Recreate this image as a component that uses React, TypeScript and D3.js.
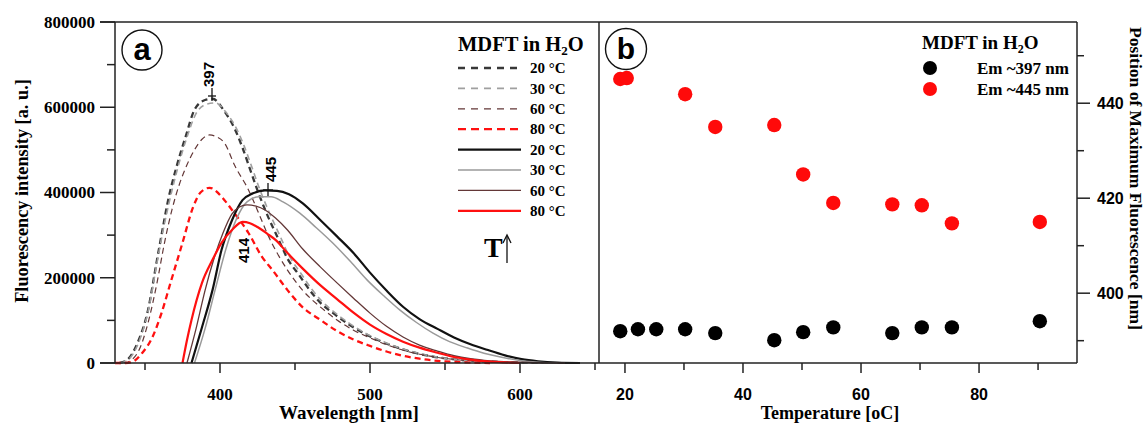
import React from 'react';
import * as d3 from 'd3';

const W = 1146;
const H = 425;

// ---------- Panel a: spectra  [wavelength (nm), intensity (a.u.)] ----------
const dashed20: [number, number][] = [
  [333, 0], [338, 7000], [345, 47000], [352, 124000], [358, 242000], [362, 319000], [365, 375000],
  [371, 460000], [377, 530000], [383, 594000], [390, 617000], [395, 620000], [403, 590000],
  [410, 548000], [415, 505000], [420, 455000], [425, 405000], [430, 360000], [439, 290000],
  [445, 245000], [453, 205000], [460, 170000], [467, 141000], [475, 118000], [487, 88000],
  [498, 66000], [510, 47000], [520, 34000], [531, 23000], [542, 15000], [555, 9000],
  [568, 5000], [590, 2000], [620, 0],
];
const dashed30: [number, number][] = [
  [334, 0], [339, 8000], [346, 50000], [352, 120000], [358, 235000], [362, 310000], [366, 375000],
  [372, 460000], [378, 530000], [384, 585000], [391, 607000], [397, 610000], [404, 588000],
  [411, 550000], [416, 510000], [421, 462000], [426, 412000], [431, 368000], [440, 298000],
  [446, 252000], [454, 210000], [461, 174000], [468, 145000], [476, 120000], [488, 89000],
  [499, 66000], [511, 47000], [521, 34000], [532, 23000], [543, 15000], [556, 9000],
  [569, 5000], [591, 2000], [622, 0],
];
const dashed60: [number, number][] = [
  [336, 0], [341, 7000], [347, 38000], [352, 94000], [358, 188000], [363, 282000], [368, 360000],
  [373, 420000], [378, 465000], [383, 500000], [388, 525000], [393, 535000], [398, 530000],
  [403, 516000], [410, 462000], [419, 406000], [425, 358000], [432, 300000], [445, 218000],
  [455, 171000], [467, 131000], [478, 101000], [489, 77000], [500, 59000], [511, 43000],
  [522, 30000], [540, 16000], [560, 7000], [590, 2000], [620, 0],
];
const dashed80: [number, number][] = [
  [330, 0], [336, 0], [341, 2000], [348, 23000], [355, 61000], [361, 117000], [367, 188000],
  [375, 282000], [382, 365000], [387, 400000], [393, 411000], [403, 382000], [408, 359000],
  [419, 305000], [428, 249000], [435, 218000], [445, 171000], [455, 131000], [467, 101000],
  [478, 75000], [489, 55000], [500, 40000], [511, 27000], [522, 17000], [533, 10000],
  [545, 5000], [560, 2000], [580, 0],
];
const solid20: [number, number][] = [
  [381, 0], [388, 84000], [395, 171000], [401, 265000], [408, 335000], [415, 382000], [422, 398000],
  [430, 405000], [438, 404000], [446, 396000], [455, 375000], [467, 335000], [478, 297000],
  [489, 258000], [500, 212000], [511, 170000], [522, 132000], [533, 103000], [545, 80000],
  [556, 60000], [567, 44000], [578, 31000], [590, 18000], [601, 9000], [612, 4000],
  [625, 1000], [640, 0],
];
const solid30: [number, number][] = [
  [383, 0], [390, 80000], [397, 175000], [404, 268000], [411, 338000], [418, 378000], [426, 390000],
  [434, 390000], [442, 378000], [453, 352000], [464, 318000], [475, 282000], [487, 238000],
  [498, 195000], [510, 155000], [520, 124000], [531, 95000], [542, 70000], [553, 50000],
  [565, 35000], [576, 23000], [587, 14000], [600, 6000], [612, 2000], [625, 0],
];
const solid60: [number, number][] = [
  [378, 0], [384, 80000], [390, 170000], [396, 245000], [402, 305000], [408, 350000], [413, 366000],
  [418, 371000], [424, 368000], [430, 359000], [437, 340000], [445, 312000], [455, 268000],
  [467, 225000], [478, 188000], [489, 152000], [500, 117000], [511, 86000], [522, 61000],
  [533, 42000], [545, 28000], [556, 17000], [567, 10000], [580, 5000], [600, 2000], [630, 0],
];
const solid80: [number, number][] = [
  [375, 0], [378, 54000], [381, 101000], [388, 188000], [395, 242000], [401, 282000], [408, 312000],
  [415, 331000], [420, 328000], [425, 319000], [432, 302000], [437, 289000], [445, 258000],
  [455, 222000], [467, 182000], [478, 150000], [489, 118000], [500, 90000], [511, 68000],
  [522, 50000], [533, 36000], [545, 24000], [556, 14000], [567, 8000], [580, 3000], [600, 0],
];

const legendLabels = ['20 °C', '30 °C', '60 °C', '80 °C', '20 °C', '30 °C', '60 °C', '80 °C'];
const leftYTicks = [0, 200000, 400000, 600000, 800000];
const leftYMinor = [100000, 300000, 500000, 700000];
const leftXTicks = [400, 500, 600];
const leftXMinor = [350, 450, 550, 650];

// ---------- Panel b: peak positions ----------
const tempsBlack = [19.2, 22.2, 25.3, 30.2, 35.3, 45.3, 50.2, 55.3, 65.3, 70.3, 75.4, 90.3];
const posBlack = [392.0, 392.4, 392.4, 392.4, 391.6, 390.1, 391.8, 392.8, 391.6, 392.8, 392.8, 394.1];
const tempsRed = [19.2, 20.3, 30.2, 35.3, 45.3, 50.2, 55.3, 65.3, 70.3, 75.4, 90.3];
const posRed = [445.1, 445.3, 441.9, 435.0, 435.4, 425.0, 419.0, 418.7, 418.5, 414.7, 415.0];
const rightLegend = ['Em ~397 nm', 'Em ~445 nm'];
const rightXTicks = [20, 40, 60, 80];
const rightXMinor = [30, 50, 70, 90];
const rightYTicks = [400, 420, 440];
const rightYMinor = [390, 410, 430, 450];

const SERIF = '"Liberation Serif", "Times New Roman", serif';
const SANS = '"Liberation Sans", Arial, sans-serif';

const styles = [
  { data: dashed20, color: '#383838', w: 2.3, dash: '6,4', ldash: '7,6' },
  { data: dashed30, color: '#a0a0a0', w: 1.6, dash: '6,4', ldash: '7,6' },
  { data: dashed60, color: '#633737', w: 1.2, dash: '6,4', ldash: '7,6' },
  { data: dashed80, color: '#ff1010', w: 2.3, dash: '6,4', ldash: '8,5' },
  { data: solid20, color: '#111111', w: 2.2, dash: undefined, ldash: undefined },
  { data: solid30, color: '#9a9a9a', w: 1.5, dash: undefined, ldash: undefined },
  { data: solid60, color: '#633737', w: 1.3, dash: undefined, ldash: undefined },
  { data: solid80, color: '#ff1010', w: 2.2, dash: undefined, ldash: undefined },
];

export default function App() {
  const L = { x0: 115, x1: 598, y0: 22, y1: 363 };
  const R = { x0: 599, x1: 1077, y0: 22, y1: 363 };
  const xL = d3.scaleLinear().domain([330, 652]).range([L.x0, L.x1]);
  const yL = d3.scaleLinear().domain([0, 800000]).range([L.y1, L.y0]);
  const xR = d3.scaleLinear().domain([15.6, 96.6]).range([R.x0, R.x1]);
  const yR = d3.scaleLinear().domain([385.3, 457.1]).range([R.y1, R.y0]);

  const line = d3
    .line<[number, number]>()
    .x((d) => xL(d[0]))
    .y((d) => yL(d[1]))
    .curve(d3.curveMonotoneX);

  const axisColor = '#222';
  const legY0 = 68;
  const legStep = 20.4;

  return (
    <svg
      width={W}
      height={H}
      viewBox={`0 0 ${W} ${H}`}
      style={{ position: 'absolute', left: 0, top: 0, background: '#fff' }}
    >
      <rect x={0} y={0} width={W} height={H} fill="#fff" />
      {/* ===== Panel a ===== */}
      <g>
        {styles.map((s, i) => (
          <path
            key={i}
            d={line(s.data) || ''}
            fill="none"
            stroke={s.color}
            strokeWidth={s.w}
            strokeDasharray={s.dash}
          />
        ))}
      </g>
      {/* frame */}
      <line x1={L.x0} x2={L.x0} y1={L.y0} y2={L.y1} stroke={axisColor} strokeWidth={1.5} />
      <line x1={100} x2={R.x1} y1={L.y0} y2={L.y0} stroke={axisColor} strokeWidth={1.5} />
      <line x1={100} x2={R.x1} y1={L.y1} y2={L.y1} stroke={axisColor} strokeWidth={1.5} />
      <line x1={L.x1 + 1} x2={L.x1 + 1} y1={L.y0} y2={L.y1} stroke={axisColor} strokeWidth={1.5} />
      <line x1={R.x1} x2={R.x1} y1={R.y0} y2={R.y1} stroke={axisColor} strokeWidth={1.5} />

      {/* left y ticks */}
      {leftYTicks.map((t) => (
        <g key={'ly' + t}>
          <line x1={100} x2={L.x0} y1={yL(t)} y2={yL(t)} stroke={axisColor} strokeWidth={1.5} />
          <text
            x={95}
            y={yL(t)}
            dy="0.35em"
            textAnchor="end"
            fontFamily={SERIF}
            fontWeight="bold"
            fontSize={17}
          >
            {t}
          </text>
        </g>
      ))}
      {leftYMinor.map((t) => (
        <line key={'lym' + t} x1={107} x2={L.x0} y1={yL(t)} y2={yL(t)} stroke={axisColor} strokeWidth={1.5} />
      ))}
      {leftXTicks.map((t) => (
        <g key={'lx' + t}>
          <line x1={xL(t)} x2={xL(t)} y1={L.y1} y2={L.y1 + 10} stroke={axisColor} strokeWidth={1.5} />
          <text x={xL(t)} y={400} textAnchor="middle" fontFamily={SERIF} fontWeight="bold" fontSize={17}>
            {t}
          </text>
        </g>
      ))}
      {leftXMinor.map((t) => (
        <line key={'lxm' + t} x1={xL(t)} x2={xL(t)} y1={L.y1} y2={L.y1 + 7} stroke={axisColor} strokeWidth={1.5} />
      ))}
      <text x={349} y={419} textAnchor="middle" fontFamily={SERIF} fontWeight="bold" fontSize={19}>
        Wavelength [nm]
      </text>
      <text
        transform="translate(28,191) rotate(-90)"
        textAnchor="middle"
        fontFamily={SERIF}
        fontWeight="bold"
        fontSize={18.3}
      >
        Fluorescency intensity [a. u.]
      </text>

      {/* circled a */}
      <circle cx={142} cy={50} r={20} fill="none" stroke="#111" strokeWidth={1.4} />
      <text x={142} y={60} textAnchor="middle" fontFamily={SANS} fontWeight="bold" fontSize={31}>
        a
      </text>

      {/* peak labels */}
      <line x1={212} x2={212} y1={101} y2={88} stroke="#111" strokeWidth={1.3} />
      <line x1={208} x2={216} y1={96} y2={96} stroke="#111" strokeWidth={1.3} />
      <text transform="translate(214,87) rotate(-90)" fontFamily={SANS} fontWeight="bold" fontSize={15}>
        397
      </text>
      <line x1={268} x2={268} y1={196} y2={183} stroke="#111" strokeWidth={1.3} />
      <line x1={263} x2={273} y1={190} y2={190} stroke="#111" strokeWidth={1.3} />
      <text transform="translate(276,182) rotate(-90)" fontFamily={SANS} fontWeight="bold" fontSize={15}>
        445
      </text>
      <text transform="translate(249,263) rotate(-90)" fontFamily={SANS} fontWeight="bold" fontSize={15}>
        414
      </text>

      {/* legend a */}
      <text x={458} y={51} fontFamily={SERIF} fontWeight="bold" fontSize={20.5}>
        MDFT in H
        <tspan fontSize={13} dy={4}>
          2
        </tspan>
        <tspan dy={-4}>O</tspan>
      </text>
      {legendLabels.map((lab, i) => {
        const s = styles[i];
        const y = legY0 + i * legStep;
        return (
          <g key={'leg' + i}>
            <line
              x1={458}
              x2={521}
              y1={y}
              y2={y}
              stroke={s.color}
              strokeWidth={s.w}
              strokeDasharray={s.ldash}
            />
            <text x={530} y={y} dy="0.35em" fontFamily={SERIF} fontWeight="bold" fontSize={15}>
              {lab}
            </text>
          </g>
        );
      })}
      {/* T arrow */}
      <text x={484} y={257} fontFamily={SERIF} fontWeight="bold" fontSize={28}>
        T
      </text>
      <line x1={507} x2={507} y1={263} y2={236} stroke="#111" strokeWidth={1.3} />
      <path d="M503,243 L507,235 L511,243" fill="none" stroke="#111" strokeWidth={1.3} />

      {/* ===== Panel b ===== */}
      {rightXTicks.map((t) => (
        <g key={'rx' + t}>
          <line x1={xR(t)} x2={xR(t)} y1={R.y1} y2={R.y1 + 10} stroke={axisColor} strokeWidth={1.5} />
          <text x={xR(t)} y={400} textAnchor="middle" fontFamily={SANS} fontWeight="bold" fontSize={16}>
            {t}
          </text>
        </g>
      ))}
      {rightXMinor.map((t) => (
        <line key={'rxm' + t} x1={xR(t)} x2={xR(t)} y1={R.y1} y2={R.y1 + 7} stroke={axisColor} strokeWidth={1.5} />
      ))}
      {rightYTicks.map((t) => (
        <g key={'ry' + t}>
          <line x1={R.x1} x2={R.x1 + 13} y1={yR(t)} y2={yR(t)} stroke={axisColor} strokeWidth={1.5} />
          <text x={1097} y={yR(t)} dy="0.35em" fontFamily={SANS} fontWeight="bold" fontSize={16}>
            {t}
          </text>
        </g>
      ))}
      {rightYMinor.map((t) => (
        <line key={'rym' + t} x1={R.x1} x2={R.x1 + 7} y1={yR(t)} y2={yR(t)} stroke={axisColor} strokeWidth={1.5} />
      ))}
      <text x={830} y={419} textAnchor="middle" fontFamily={SERIF} fontWeight="bold" fontSize={18}>
        Temperature [oC]
      </text>
      <text
        transform="translate(1130,27) rotate(90)"
        fontFamily={SERIF}
        fontWeight="bold"
        fontSize={17.5}
      >
        Position of Maximum Fluorescence [nm]
      </text>

      <circle cx={626} cy={49} r={20.5} fill="none" stroke="#111" strokeWidth={1.4} />
      <text x={626} y={59} textAnchor="middle" fontFamily={SANS} fontWeight="bold" fontSize={30}>
        b
      </text>

      {tempsRed.map((t, i) => (
        <circle key={'r' + i} cx={xR(t)} cy={yR(posRed[i])} r={7.2} fill="#ff0a0a" />
      ))}
      {tempsBlack.map((t, i) => (
        <circle key={'b' + i} cx={xR(t)} cy={yR(posBlack[i])} r={7.2} fill="#000" />
      ))}

      {/* legend b */}
      <text x={922} y={49} fontFamily={SERIF} fontWeight="bold" fontSize={19}>
        MDFT in H
        <tspan fontSize={12} dy={4}>
          2
        </tspan>
        <tspan dy={-4}>O</tspan>
      </text>
      {rightLegend.map((lab, i) => (
        <g key={'rl' + i}>
          <circle cx={930} cy={68 + i * 21} r={7} fill={i === 0 ? '#000' : '#ff0a0a'} />
          <text x={977} y={68 + i * 21} dy="0.35em" fontFamily={SERIF} fontWeight="bold" fontSize={17}>
            {lab}
          </text>
        </g>
      ))}
    </svg>
  );
}
